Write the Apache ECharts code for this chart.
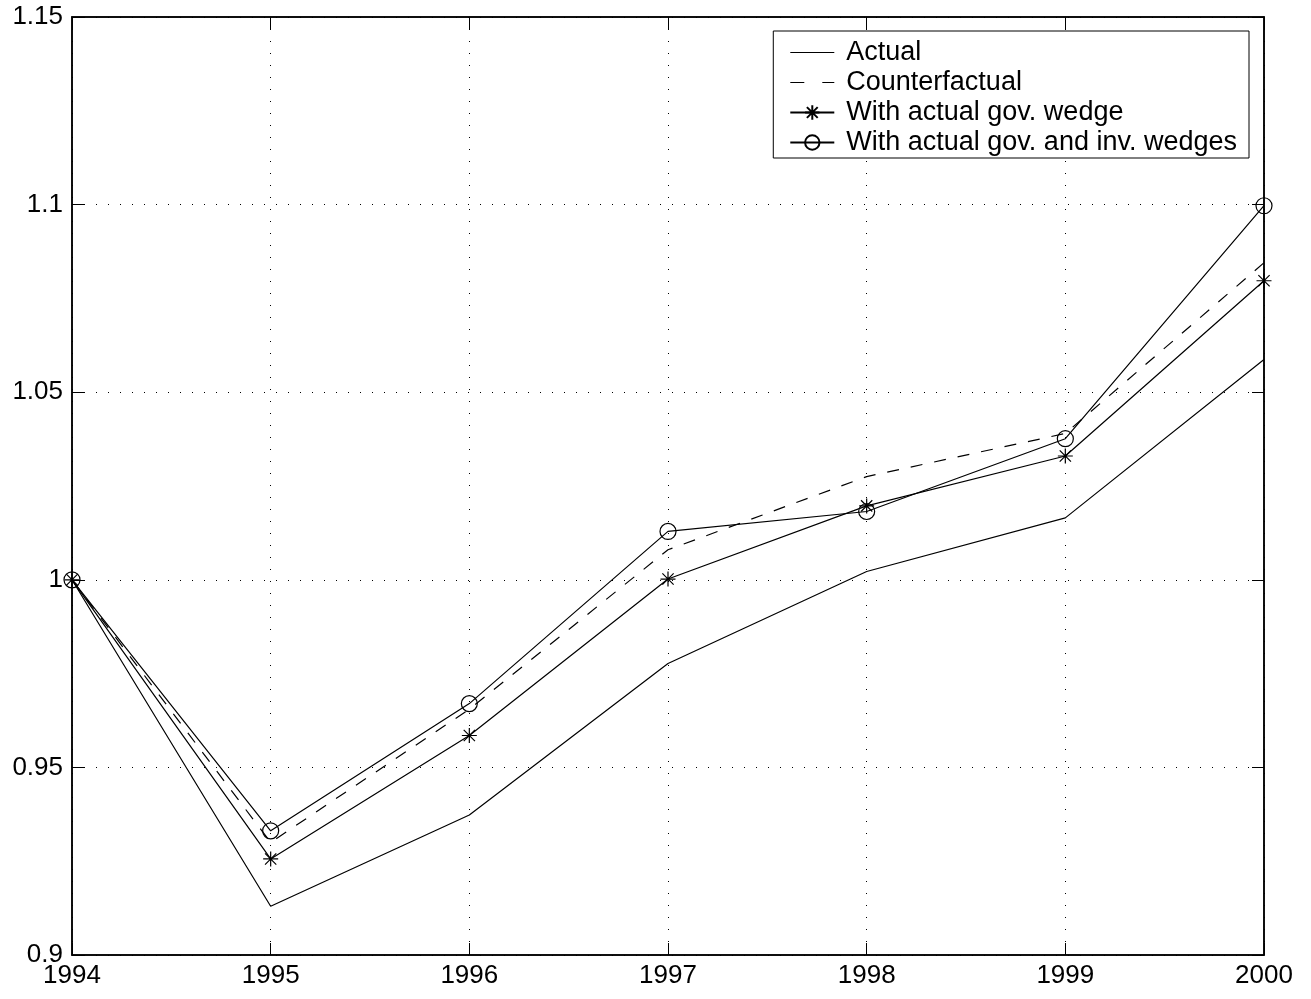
<!DOCTYPE html>
<html>
<head>
<meta charset="utf-8">
<script src="https://cdn.jsdelivr.net/npm/echarts@6/dist/echarts.min.js"></script>
<style>
  html, body { margin: 0; padding: 0; background: #fff; }
  #main { width: 1311px; height: 999px; }
</style>
</head>
<body>
<div id="main"></div>
<script>
// 数据
const years = [1994, 1995, 1996, 1997, 1998, 1999, 2000]
const actual = [1.0, 0.913, 0.9373, 0.9777, 1.0022, 1.0165, 1.0587]
const counterfactual = [1.0, 0.930, 0.9655, 1.008, 1.0275, 1.039, 1.0845]
const govWedge = [1.0, 0.9256, 0.9585, 1.0002, 1.0197, 1.033, 1.0797]
const govInvWedges = [1.0, 0.9331, 0.967, 1.0129, 1.0182, 1.0376, 1.0997]
const seriesNames = ['Actual', 'Counterfactual', 'With actual gov. wedge', 'With actual gov. and inv. wedges']

const pairs = arr => years.map((y, i) => [y, arr[i]])

const font = 'Liberation Sans, Arial, Helvetica, sans-serif'
const starPath = 'path://M0,-10L0,10M-10,0L10,0M-7.5,-7.5L7.5,7.5M-7.5,7.5L7.5,-7.5'
// 图例图标: 实线 / 虚线 (外框 44x18)
const solidIcon = 'path://M0,0L0,18L0,0ZM44,0L44,18L44,0ZM0,8.4L44,8.4L44,9.6L0,9.6Z'
const dashIcon = 'path://M0,0L0,18L0,0ZM44,0L44,18L44,0ZM0,8.4L14,8.4L14,9.6L0,9.6ZM32,8.4L44,8.4L44,9.6L32,9.6Z'

const myChart = echarts.init(document.querySelector('#main'))

// 点状网格
const splitLine = {
  show: true,
  lineStyle: { color: '#000', width: 1, type: [1, 11] }
}

const option = {
  animation: false,
  backgroundColor: '#fff',
  grid: {
    left: 72,
    right: 47,
    top: 17,
    bottom: 44,
    show: true,
    borderColor: '#000',
    borderWidth: 1.5
  },
  legend: {
    orient: 'vertical',
    right: 62,
    top: 31,
    backgroundColor: '#fff',
    borderColor: '#000',
    borderWidth: 1,
    padding: [8, 12, 2, 16],
    itemWidth: 44,
    itemHeight: 18,
    itemGap: 3,
    textStyle: { fontFamily: font, fontSize: 27, color: '#000', padding: [0, 0, 0, 7] },
    data: [
      { name: seriesNames[0], icon: solidIcon },
      { name: seriesNames[1], icon: dashIcon },
      seriesNames[2],
      seriesNames[3]
    ]
  },
  xAxis: [
    {
      type: 'value',
      min: 1994,
      max: 2000,
      interval: 1,
      axisLine: { lineStyle: { color: '#000', width: 1.5 } },
      axisTick: { inside: true, length: 12, lineStyle: { color: '#000' } },
      axisLabel: { color: '#000', fontFamily: font, fontSize: 26, margin: 8, formatter: v => String(v) },
      splitLine
    },
    {
      type: 'value',
      position: 'top',
      min: 1994,
      max: 2000,
      interval: 1,
      axisLine: { lineStyle: { color: '#000', width: 1.5 } },
      axisTick: { inside: true, length: 12, lineStyle: { color: '#000' } },
      axisLabel: { show: false },
      splitLine: { show: false }
    }
  ],
  yAxis: [
    {
      type: 'value',
      min: 0.9,
      max: 1.15,
      interval: 0.05,
      axisLine: { show: true, lineStyle: { color: '#000', width: 1.5 } },
      axisTick: { show: true, inside: true, length: 12, lineStyle: { color: '#000' } },
      axisLabel: {
        color: '#000', fontFamily: font, fontSize: 26, margin: 9,
        formatter: v => String(parseFloat(v.toFixed(2)))
      },
      splitLine
    },
    {
      type: 'value',
      position: 'right',
      min: 0.9,
      max: 1.15,
      interval: 0.05,
      axisLine: { show: true, lineStyle: { color: '#000', width: 1.5 } },
      axisTick: { show: true, inside: true, length: 12, lineStyle: { color: '#000' } },
      axisLabel: { show: false },
      splitLine: { show: false }
    }
  ],
  series: [
    {
      name: seriesNames[0],
      type: 'line',
      data: pairs(actual),
      symbol: 'none',
      lineStyle: { color: '#000', width: 1.2 },
      itemStyle: { color: '#000' }
    },
    {
      name: seriesNames[1],
      type: 'line',
      data: pairs(counterfactual),
      symbol: 'none',
      lineStyle: { color: '#000', width: 1.2, type: [12, 12] },
      itemStyle: { color: '#000' }
    },
    {
      name: seriesNames[2],
      type: 'line',
      data: pairs(govWedge),
      symbol: starPath,
      symbolSize: 15,
      lineStyle: { color: '#000', width: 1.2 },
      itemStyle: { color: 'none', borderColor: '#000', borderWidth: 1.2 }
    },
    {
      name: seriesNames[3],
      type: 'line',
      data: pairs(govInvWedges),
      symbol: 'circle',
      symbolSize: 16,
      lineStyle: { color: '#000', width: 1.2 },
      itemStyle: { color: 'rgba(0,0,0,0)', borderColor: '#000', borderWidth: 1.2 }
    }
  ]
}

myChart.setOption(option)
</script>
</body>
</html>
